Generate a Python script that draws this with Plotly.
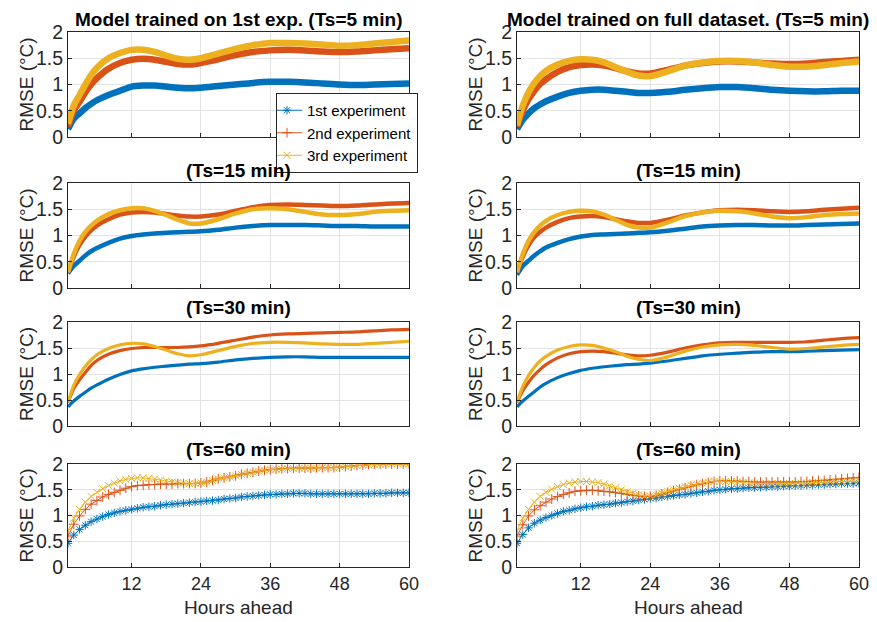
import plotly.graph_objects as go

# ---------------- data ----------------
# coarse hour grid for the densely sampled cases (Ts = 5, 15, 30 min)
hours_c = [1, 2, 3, 4, 5, 6, 8, 10, 12, 14, 16, 18, 20, 22, 24, 27, 30, 33, 36, 39, 42, 45, 48, 51, 54, 57, 60]
# hourly grid for Ts = 60 min
hours_h = list(range(1, 61))

series_names = ["1st experiment", "2nd experiment", "3rd experiment"]

# Ts = 5 min, model trained on 1st exp.
ts5_first_e1 = [0.15, 0.35, 0.45, 0.55, 0.63, 0.70, 0.80, 0.88, 0.96, 0.98, 0.98, 0.96, 0.94, 0.93, 0.94, 0.97, 1.00, 1.03, 1.05, 1.05, 1.04, 1.02, 1.00, 0.99, 1.00, 1.01, 1.02]
ts5_first_e2 = [0.20, 0.50, 0.67, 0.85, 1.00, 1.12, 1.30, 1.41, 1.47, 1.49, 1.47, 1.43, 1.39, 1.38, 1.41, 1.48, 1.56, 1.62, 1.65, 1.66, 1.65, 1.63, 1.62, 1.63, 1.65, 1.67, 1.69]
ts5_first_e3 = [0.25, 0.60, 0.80, 1.00, 1.18, 1.32, 1.50, 1.60, 1.66, 1.66, 1.62, 1.55, 1.49, 1.47, 1.50, 1.59, 1.68, 1.75, 1.79, 1.79, 1.78, 1.76, 1.74, 1.75, 1.78, 1.81, 1.84]
# Ts = 5 min, model trained on full dataset
ts5_full_e1 = [0.15, 0.33, 0.45, 0.55, 0.62, 0.68, 0.77, 0.84, 0.88, 0.90, 0.90, 0.88, 0.86, 0.84, 0.84, 0.86, 0.90, 0.93, 0.95, 0.95, 0.93, 0.90, 0.88, 0.87, 0.87, 0.88, 0.88]
ts5_full_e2 = [0.20, 0.50, 0.72, 0.88, 1.01, 1.10, 1.24, 1.33, 1.37, 1.38, 1.36, 1.31, 1.25, 1.21, 1.21, 1.28, 1.36, 1.41, 1.44, 1.44, 1.42, 1.40, 1.39, 1.40, 1.43, 1.45, 1.47]
ts5_full_e3 = [0.22, 0.60, 0.85, 1.03, 1.16, 1.26, 1.38, 1.45, 1.48, 1.47, 1.42, 1.33, 1.24, 1.17, 1.16, 1.25, 1.36, 1.42, 1.45, 1.45, 1.42, 1.37, 1.34, 1.34, 1.37, 1.41, 1.44]

# Ts = 15 min
ts15_first_e1 = [0.28, 0.42, 0.52, 0.62, 0.70, 0.76, 0.86, 0.94, 0.99, 1.02, 1.04, 1.05, 1.06, 1.07, 1.08, 1.11, 1.15, 1.18, 1.20, 1.20, 1.20, 1.19, 1.18, 1.18, 1.17, 1.17, 1.17]
ts15_first_e2 = [0.30, 0.60, 0.82, 0.98, 1.10, 1.19, 1.31, 1.40, 1.44, 1.45, 1.44, 1.41, 1.38, 1.36, 1.36, 1.40, 1.47, 1.54, 1.58, 1.59, 1.58, 1.57, 1.56, 1.57, 1.59, 1.61, 1.62]
ts15_first_e3 = [0.30, 0.65, 0.90, 1.07, 1.19, 1.28, 1.41, 1.48, 1.52, 1.52, 1.47, 1.39, 1.30, 1.23, 1.23, 1.31, 1.42, 1.50, 1.52, 1.50, 1.45, 1.40, 1.39, 1.41, 1.45, 1.47, 1.48]
ts15_full_e1 = [0.25, 0.42, 0.52, 0.62, 0.70, 0.77, 0.86, 0.93, 0.98, 1.01, 1.02, 1.03, 1.04, 1.05, 1.06, 1.09, 1.13, 1.17, 1.19, 1.20, 1.20, 1.19, 1.19, 1.20, 1.21, 1.22, 1.23]
ts15_full_e2 = [0.30, 0.60, 0.82, 0.97, 1.07, 1.15, 1.26, 1.33, 1.36, 1.37, 1.35, 1.31, 1.27, 1.24, 1.24, 1.30, 1.38, 1.44, 1.48, 1.49, 1.48, 1.46, 1.45, 1.46, 1.49, 1.51, 1.53]
ts15_full_e3 = [0.30, 0.65, 0.90, 1.07, 1.19, 1.28, 1.39, 1.45, 1.47, 1.46, 1.40, 1.30, 1.20, 1.15, 1.15, 1.25, 1.37, 1.44, 1.47, 1.46, 1.42, 1.36, 1.33, 1.35, 1.39, 1.41, 1.42]

# Ts = 30 min
ts30_first_e1 = [0.37, 0.48, 0.57, 0.65, 0.73, 0.79, 0.90, 0.99, 1.06, 1.10, 1.13, 1.15, 1.17, 1.19, 1.20, 1.23, 1.27, 1.30, 1.32, 1.33, 1.33, 1.32, 1.32, 1.32, 1.32, 1.32, 1.32]
ts30_first_e2 = [0.45, 0.72, 0.89, 1.03, 1.16, 1.26, 1.38, 1.45, 1.49, 1.51, 1.51, 1.51, 1.51, 1.52, 1.54, 1.59, 1.65, 1.71, 1.75, 1.77, 1.78, 1.79, 1.80, 1.81, 1.83, 1.85, 1.86]
ts30_first_e3 = [0.45, 0.78, 0.99, 1.15, 1.27, 1.37, 1.49, 1.56, 1.59, 1.58, 1.53, 1.46, 1.39, 1.35, 1.37, 1.45, 1.53, 1.59, 1.61, 1.61, 1.60, 1.58, 1.57, 1.57, 1.59, 1.61, 1.63]
ts30_full_e1 = [0.37, 0.48, 0.57, 0.66, 0.75, 0.82, 0.93, 1.01, 1.07, 1.11, 1.14, 1.16, 1.18, 1.19, 1.21, 1.25, 1.30, 1.35, 1.38, 1.40, 1.42, 1.43, 1.43, 1.44, 1.45, 1.46, 1.47]
ts30_full_e2 = [0.45, 0.68, 0.84, 0.98, 1.09, 1.18, 1.31, 1.39, 1.43, 1.44, 1.43, 1.40, 1.37, 1.35, 1.36, 1.42, 1.50, 1.56, 1.60, 1.61, 1.61, 1.61, 1.61, 1.62, 1.65, 1.68, 1.70]
ts30_full_e3 = [0.45, 0.76, 0.97, 1.13, 1.25, 1.34, 1.46, 1.53, 1.56, 1.55, 1.50, 1.43, 1.34, 1.28, 1.26, 1.33, 1.44, 1.52, 1.56, 1.57, 1.55, 1.51, 1.48, 1.49, 1.52, 1.55, 1.57]

# Ts = 60 min (hourly)
ts60_first_e1 = [0.46, 0.62, 0.73, 0.81, 0.88, 0.93, 0.98, 1.02, 1.05, 1.08, 1.10, 1.12, 1.14, 1.16, 1.17, 1.18, 1.20, 1.21, 1.22, 1.23,
                 1.24, 1.25, 1.26, 1.27, 1.28, 1.29, 1.30, 1.32, 1.33, 1.34, 1.36, 1.37, 1.38, 1.39, 1.40, 1.41, 1.41, 1.42, 1.42, 1.43,
                 1.43, 1.43, 1.42, 1.42, 1.42, 1.42, 1.42, 1.42, 1.42, 1.42, 1.42, 1.42, 1.42, 1.43, 1.43, 1.43, 1.44, 1.44, 1.44, 1.44]
ts60_first_e2 = [0.60, 0.83, 0.99, 1.12, 1.22, 1.29, 1.36, 1.41, 1.45, 1.49, 1.53, 1.56, 1.58, 1.59, 1.60, 1.60, 1.61, 1.61, 1.61, 1.62,
                 1.62, 1.62, 1.62, 1.63, 1.65, 1.68, 1.71, 1.73, 1.75, 1.77, 1.80, 1.82, 1.84, 1.86, 1.88, 1.89, 1.90, 1.91, 1.91, 1.92,
                 1.92, 1.92, 1.92, 1.93, 1.93, 1.93, 1.93, 1.94, 1.95, 1.96, 1.97, 1.98, 1.99, 2.00, 2.00, 2.00, 2.00, 2.00, 2.00, 2.00]
ts60_first_e3 = [0.70, 0.95, 1.12, 1.26, 1.37, 1.45, 1.52, 1.58, 1.63, 1.67, 1.70, 1.72, 1.73, 1.73, 1.72, 1.71, 1.69, 1.67, 1.65, 1.64,
                 1.63, 1.62, 1.62, 1.63, 1.65, 1.68, 1.71, 1.73, 1.75, 1.77, 1.80, 1.82, 1.84, 1.86, 1.88, 1.89, 1.90, 1.90, 1.91, 1.91,
                 1.92, 1.92, 1.92, 1.92, 1.93, 1.93, 1.93, 1.94, 1.95, 1.96, 1.97, 1.98, 1.98, 1.99, 2.00, 2.00, 2.00, 2.00, 2.00, 2.00]
ts60_full_e1 = [0.46, 0.63, 0.76, 0.85, 0.91, 0.96, 1.00, 1.04, 1.08, 1.10, 1.13, 1.15, 1.17, 1.18, 1.20, 1.21, 1.22, 1.24, 1.25, 1.27,
                1.28, 1.30, 1.31, 1.33, 1.34, 1.36, 1.37, 1.39, 1.40, 1.41, 1.43, 1.44, 1.46, 1.47, 1.49, 1.50, 1.51, 1.52, 1.52, 1.53,
                1.54, 1.54, 1.55, 1.55, 1.56, 1.56, 1.57, 1.57, 1.58, 1.58, 1.59, 1.59, 1.60, 1.60, 1.61, 1.61, 1.62, 1.62, 1.62, 1.63]
ts60_full_e2 = [0.60, 0.82, 0.99, 1.11, 1.19, 1.26, 1.32, 1.37, 1.41, 1.44, 1.47, 1.48, 1.49, 1.49, 1.48, 1.47, 1.46, 1.45, 1.43, 1.41,
                1.39, 1.38, 1.37, 1.37, 1.39, 1.42, 1.45, 1.48, 1.51, 1.54, 1.57, 1.60, 1.62, 1.64, 1.66, 1.67, 1.67, 1.67, 1.67, 1.66,
                1.66, 1.65, 1.65, 1.65, 1.65, 1.65, 1.65, 1.65, 1.65, 1.66, 1.66, 1.67, 1.68, 1.68, 1.69, 1.70, 1.71, 1.72, 1.73, 1.74]
ts60_full_e3 = [0.70, 0.95, 1.12, 1.26, 1.37, 1.45, 1.51, 1.56, 1.60, 1.63, 1.65, 1.66, 1.66, 1.65, 1.64, 1.61, 1.58, 1.54, 1.50, 1.46,
                1.43, 1.40, 1.38, 1.38, 1.40, 1.43, 1.47, 1.50, 1.53, 1.56, 1.59, 1.61, 1.63, 1.65, 1.66, 1.66, 1.66, 1.66, 1.65, 1.64,
                1.63, 1.63, 1.62, 1.62, 1.62, 1.62, 1.62, 1.62, 1.62, 1.63, 1.63, 1.64, 1.64, 1.65, 1.65, 1.66, 1.66, 1.67, 1.67, 1.67]

x_ticks = [12, 24, 36, 48, 60]
y_ticks = [0, 0.5, 1, 1.5, 2]
y_tick_labels = ["0", "0.5", "1", "1.5", "2"]

titles_left = ["Model trained on 1st exp. (Ts=5 min)", "(Ts=15 min)", "(Ts=30 min)", "(Ts=60 min)"]
titles_right = ["Model trained on full dataset. (Ts=5 min)", "(Ts=15 min)", "(Ts=30 min)", "(Ts=60 min)"]
y_title = "RMSE (°C)"
x_title = "Hours ahead"

# ---------------- styling / layout ----------------
# the page body adds an 8 px margin, so the figure is 8 px smaller and shifted
OFF = 8
W, H = 877 - OFF, 622 - OFF
colors = ["#0072BD", "#D95319", "#EDB120"]
symbols = ["asterisk-open", "cross-thin-open", "x-thin-open"]
FONT = "Liberation Sans, Arial, Helvetica, sans-serif"
TXT = "#262626"

def px_x(v):
    return (v - OFF) / W

def px_y(v):
    return 1 - (v - OFF) / H

col_px = [(68, 409), (517, 859)]
row_px = [(32, 137), (183, 288), (322, 426), (464, 567)]
title_y_px = [19, 170, 307, 449]

panels = [
    [(ts5_first_e1, ts5_first_e2, ts5_first_e3), (ts5_full_e1, ts5_full_e2, ts5_full_e3)],
    [(ts15_first_e1, ts15_first_e2, ts15_first_e3), (ts15_full_e1, ts15_full_e2, ts15_full_e3)],
    [(ts30_first_e1, ts30_first_e2, ts30_first_e3), (ts30_full_e1, ts30_full_e2, ts30_full_e3)],
    [(ts60_first_e1, ts60_first_e2, ts60_first_e3), (ts60_full_e1, ts60_full_e2, ts60_full_e3)],
]
band_width = [6.5, 4.5, 3.2]

fig = go.Figure()
layout = dict(
    width=W, height=H, margin=dict(l=0, r=0, t=0, b=0, autoexpand=False),
    paper_bgcolor="white", plot_bgcolor="white",
    font=dict(family=FONT, color=TXT, size=18),
    showlegend=True,
    legend=dict(x=px_x(276), y=px_y(93), xanchor="left", yanchor="top",
                bgcolor="white", bordercolor="#262626", borderwidth=1,
                font=dict(size=15, color="#000000"), tracegroupgap=0,
                itemwidth=30, traceorder="normal", indentation=-10),
)
annotations = []

idx = 0
order = [(3, 0)] + [(r, c) for r in range(4) for c in range(2) if (r, c) != (3, 0)]
axis_of = {}
for r in range(4):
    for c in range(2):
        idx += 1
        axis_of[(r, c)] = idx
        xa = "xaxis" if idx == 1 else f"xaxis{idx}"
        ya = "yaxis" if idx == 1 else f"yaxis{idx}"
        x0, x1 = col_px[c]
        yt, yb = row_px[r]
        layout[xa] = dict(domain=[px_x(x0), px_x(x1)], range=[1, 60], anchor=f"y{idx}" if idx > 1 else "y",
                          tickvals=x_ticks, showticklabels=(r == 3), ticks="inside", ticklen=4,
                          tickcolor=TXT, showline=True, mirror=True, linecolor=TXT, linewidth=1,
                          showgrid=True, gridcolor="#e3e3e3", gridwidth=1, zeroline=False,
                          automargin=False, tickfont=dict(size=18, color=TXT))
        layout[ya] = dict(domain=[px_y(yb), px_y(yt)], range=[0, 2], anchor=f"x{idx}" if idx > 1 else "x",
                          tickvals=y_ticks, ticktext=y_tick_labels, ticks="inside", ticklen=4,
                          tickcolor=TXT, showline=True, mirror=True, linecolor=TXT, linewidth=1,
                          showgrid=True, gridcolor="#e3e3e3", gridwidth=1, zeroline=False,
                          automargin=False, tickfont=dict(size=19.5, color=TXT))
        # titles
        t = titles_left[r] if c == 0 else titles_right[r]
        annotations.append(dict(text=f"<b>{t}</b>", x=px_x((x0 + x1) / 2), y=px_y(title_y_px[r]),
                                xref="paper", yref="paper", xanchor="center", yanchor="middle",
                                showarrow=False, font=dict(size=19, color="#000000", family=FONT)))
        annotations.append(dict(text=y_title, x=px_x(26 if c == 0 else 475), y=px_y((yt + yb) / 2),
                                xref="paper", yref="paper", xanchor="center", yanchor="middle",
                                textangle=-90, showarrow=False, font=dict(size=19, color=TXT, family=FONT)))
        if r == 3:
            annotations.append(dict(text=x_title, x=px_x((x0 + x1) / 2), y=px_y(607),
                                    xref="paper", yref="paper", xanchor="center", yanchor="middle",
                                    showarrow=False, font=dict(size=19, color=TXT, family=FONT)))

for (r, c) in order:
    idx = axis_of[(r, c)]
    xr = "x" if idx == 1 else f"x{idx}"
    yr = "y" if idx == 1 else f"y{idx}"
    vals = panels[r][c]
    for k in range(3):
        if r == 3:
            fig.add_trace(go.Scatter(
                x=hours_h, y=vals[k], xaxis=xr, yaxis=yr, mode="lines+markers",
                name=series_names[k], showlegend=(c == 0),
                line=dict(color=colors[k], width=1),
                marker=dict(symbol=symbols[k], size=7, color=colors[k], line=dict(color=colors[k], width=1)),
            ))
        else:
            fig.add_trace(go.Scatter(
                x=hours_c, y=vals[k], xaxis=xr, yaxis=yr, mode="lines",
                name=series_names[k], showlegend=False,
                line=dict(color=colors[k], width=band_width[r], shape="spline", smoothing=0.8),
            ))

layout["annotations"] = annotations
fig.update_layout(**layout)
fig.write_html("out.html")
